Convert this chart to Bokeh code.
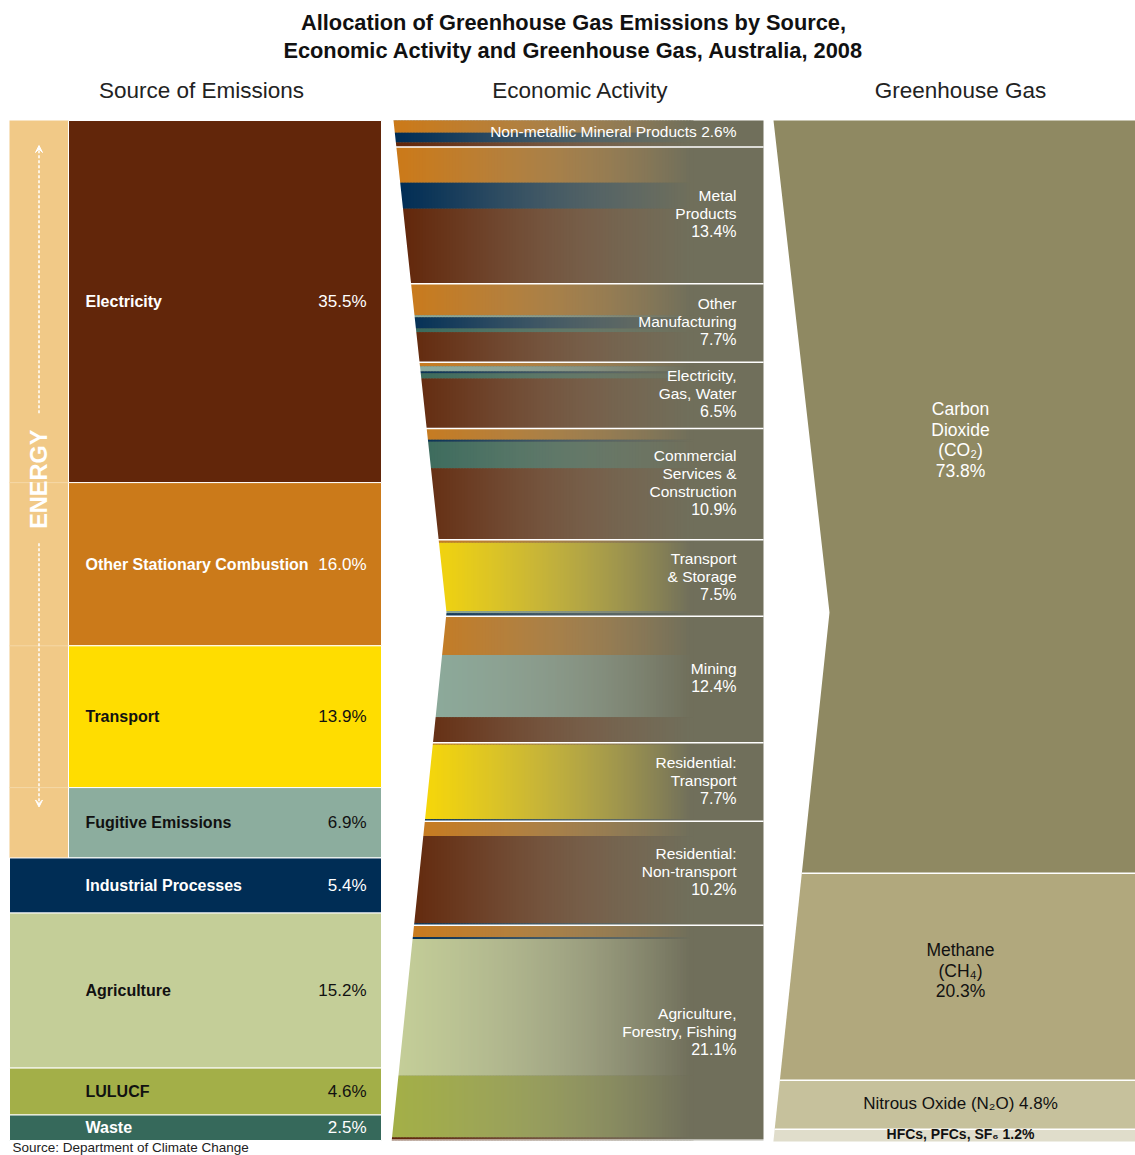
import numpy as np
from bokeh.plotting import figure
from bokeh.models import Range1d, ColumnDataSource, Arrow, VeeHead
from bokeh.embed import file_html
from bokeh.resources import INLINE
from bokeh.core.properties import value

# ---------------- data ----------------
title_lines = ["Allocation of Greenhouse Gas Emissions by Source,",
               "Economic Activity and Greenhouse Gas, Australia, 2008"]
column_titles = ["Source of Emissions", "Economic Activity", "Greenhouse Gas"]
source_note = "Source: Department of Climate Change"

sources = ["Electricity", "Other Stationary Combustion", "Transport", "Fugitive Emissions",
           "Industrial Processes", "Agriculture", "LULUCF", "Waste"]
source_pct = [35.5, 16.0, 13.9, 6.9, 5.4, 15.2, 4.6, 2.5]
source_colors = ["#62260A", "#CB7A1A", "#FFDD00", "#8CAD9E",
                 "#002D55", "#C4CE98", "#A3AF48", "#36695B"]
source_text_colors = ["white", "white", "#111111", "#111111",
                      "white", "#111111", "#111111", "white"]
energy_sources = 4
energy_label = "ENERGY"

activity_lines = [["Non-metallic Mineral Products"], ["Metal", "Products"],
                  ["Other", "Manufacturing"], ["Electricity,", "Gas, Water"],
                  ["Commercial", "Services &", "Construction"], ["Transport", "& Storage"],
                  ["Mining"], ["Residential:", "Transport"], ["Residential:", "Non-transport"],
                  ["Agriculture,", "Forestry, Fishing"]]
activity_pct = [2.6, 13.4, 7.7, 6.5, 10.9, 7.5, 12.4, 7.7, 10.2, 21.1]
# composition of each activity by source (share of total emissions, %), top to bottom
mix_sources = [
    ["Other Stationary Combustion", "Industrial Processes", "Electricity"],
    ["Other Stationary Combustion", "Industrial Processes", "Electricity"],
    ["Other Stationary Combustion", "Fugitive Emissions", "Industrial Processes", "Waste", "Electricity"],
    ["Other Stationary Combustion", "Fugitive Emissions", "Industrial Processes", "Waste", "Electricity"],
    ["Other Stationary Combustion", "Industrial Processes", "Waste", "Electricity"],
    ["Other Stationary Combustion", "Transport", "Fugitive Emissions", "Industrial Processes"],
    ["Other Stationary Combustion", "Fugitive Emissions", "Electricity"],
    ["Other Stationary Combustion", "Transport", "Industrial Processes"],
    ["Other Stationary Combustion", "Electricity", "Industrial Processes"],
    ["Other Stationary Combustion", "Industrial Processes", "Agriculture", "LULUCF", "Electricity"],
]
mix_values = [
    [1.2, 0.95, 0.45],
    [3.5, 2.55, 7.35],
    [3.1, 0.2, 1.1, 0.35, 2.95],
    [0.4, 0.5, 0.2, 0.5, 4.9],
    [1.1, 0.2, 2.6, 7.0],
    [0.3, 6.7, 0.2, 0.3],
    [3.8, 6.1, 2.5],
    [0.2, 7.3, 0.2],
    [1.45, 8.55, 0.2],
    [1.15, 0.2, 13.4, 6.05, 0.3],
]

gas_lines = [["Carbon", "Dioxide", "(CO\u2082)"], ["Methane", "(CH\u2084)"],
             ["Nitrous Oxide (N\u2082O)"], ["HFCs, PFCs, SF\u2086"]]
gas_pct = [73.8, 20.3, 4.8, 1.2]
gas_colors = ["#8F8962", "#B1A87D", "#C6C19C", "#E0DDCB"]
gas_text_colors = ["white", "#111111", "#111111", "#111111"]

# ---------------- layout constants ----------------
FONT = value("Liberation Sans")
TOP = 120.0
SCALE = 10.2          # px per percent
FADE = "#706F5B"
W, H = 1135, 1155

def ypos(c):
    return TOP + c * SCALE

def chevron(y, x_top, x_tip, x_bot, y_tip, y_top, y_bot):
    if y <= y_tip:
        return x_top + (x_tip - x_top) * (y - y_top) / (y_tip - y_top)
    return x_tip + (x_bot - x_tip) * (y - y_tip) / (y_bot - y_tip)

Y_TIP = 612.0
Y_BOT = ypos(100)

def mid_edge(y):
    return chevron(y, 393, 446, 391, Y_TIP, TOP, Y_BOT)

def right_edge(y):
    return chevron(y, 773, 829, 773, Y_TIP, TOP, Y_BOT)

def hex2rgb(h):
    h = h.lstrip("#")
    return np.array([int(h[i:i + 2], 16) for i in (0, 2, 4)], dtype=float)

def rgb2hex(c):
    c = np.clip(np.round(c), 0, 255).astype(int)
    return "#%02x%02x%02x" % tuple(c)

p = figure(width=W, height=H, x_range=Range1d(0, W), y_range=Range1d(H, 0),
           x_axis_type=None, y_axis_type=None, output_backend="svg", toolbar_location=None,
           min_border=0, background_fill_color="white", border_fill_color="white")
p.outline_line_color = None
p.grid.visible = False

# ---------------- titles ----------------
p.text(x=[573, 573], y=[22, 50], text=title_lines, text_font=FONT, text_font_size="21.8px",
       text_font_style="bold", text_align="center", text_baseline="middle", text_color="#111111")
p.text(x=[201, 580, 960], y=[90, 90, 90], text=column_titles, text_font=FONT,
       text_font_size="22.5px", text_align="center", text_baseline="middle", text_color="#222222")
p.text(x=[12], y=[1154.5], text=[source_note], text_font=FONT, text_font_size="13.5px",
       text_align="left", text_baseline="bottom", text_color="#222222")

# ---------------- left column: sources ----------------
cum = np.concatenate([[0], np.cumsum(source_pct)])
energy_end = ypos(cum[energy_sources])
p.quad(left=[9], right=[68], top=[TOP], bottom=[energy_end], fill_color="#F1C987", line_color=None)
for c in cum[1:energy_sources]:
    p.segment(x0=[9], x1=[68], y0=[ypos(c)], y1=[ypos(c)], line_color="#F5D8A6", line_width=1)

src = ColumnDataSource(dict(
    left=[68 if i < energy_sources else 9 for i in range(len(sources))],
    right=[381] * len(sources),
    top=[ypos(cum[i]) for i in range(len(sources))],
    bottom=[ypos(cum[i + 1]) for i in range(len(sources))],
    color=source_colors))
p.quad(left="left", right="right", top="top", bottom="bottom", fill_color="color",
       line_color="white", line_width=1, source=src)

mids = [(ypos(cum[i]) + ypos(cum[i + 1])) / 2 for i in range(len(sources))]
p.text(x=[85] * len(sources), y=mids, text=sources, text_font=FONT, text_font_size="16px",
       text_font_style="bold", text_align="left", text_baseline="middle", text_color=source_text_colors)
p.text(x=[366] * len(sources), y=mids, text=["%.1f%%" % v for v in source_pct], text_font=FONT,
       text_font_size="17px", text_align="right", text_baseline="middle", text_color=source_text_colors)

# ENERGY label and arrows
e_mid = (TOP + energy_end) / 2 - 10
p.text(x=[38.5], y=[e_mid], text=[energy_label], text_font=FONT, text_font_size="23.5px",
       text_font_style="bold", text_align="center", text_baseline="middle", text_color="white",
       angle=np.pi / 2)
p.add_layout(Arrow(end=VeeHead(size=7, line_color="white", fill_color="white", line_width=1),
                   x_start=38.5, y_start=e_mid - 66, x_end=38.5, y_end=TOP + 25,
                   line_color="white", line_width=1.5, line_dash="3 2"))
p.add_layout(Arrow(end=VeeHead(size=7, line_color="white", fill_color="white", line_width=1),
                   x_start=38.5, y_start=e_mid + 64, x_end=38.5, y_end=energy_end - 51,
                   line_color="white", line_width=1.5, line_dash="3 2"))

# ---------------- middle column: economic activity ----------------
fade_rgb = hex2rgb(FADE)
G_START, G_END, STEP = 395.0, 690.0, 3.0
xs = np.arange(386.0, G_END, STEP)
color_of = dict(zip(sources, source_colors))

def grad(base, x):
    t = np.clip((x - G_START) / (G_END - G_START), 0, 1) ** 1.2
    c = base * (1 - t) + fade_rgb * t
    return c + 0.08 * np.sin(np.pi * t) * (255 - c)

p.quad(left=[386], right=[763], top=[TOP], bottom=[Y_BOT], fill_color=FADE, line_color=None)

acum = np.concatenate([[0], np.cumsum(activity_pct)])
gl, gr, gt, gb, gc = [], [], [], [], []
for i in range(len(activity_pct)):
    c0 = acum[i]
    for s, v in zip(mix_sources[i], mix_values[i]):
        y0, y1 = ypos(c0), ypos(c0 + v)
        base = hex2rgb(color_of[s])
        for x in xs:
            gl.append(x); gr.append(x + STEP + 1.0); gt.append(y0); gb.append(y1)
            gc.append(rgb2hex(grad(base, x + STEP / 2)))
        c0 += v
p.quad(left=gl, right=gr, top=gt, bottom=gb, fill_color=gc, line_color=None)

# chevron mask
p.patch(x=[383, 393, 393, mid_edge(Y_TIP), 391, 383],
        y=[TOP - 2, TOP - 2, TOP, Y_TIP, Y_BOT + 2, Y_BOT + 2],
        fill_color="white", line_color=None)
p.quad(left=[386], right=[770], top=[Y_BOT], bottom=[H - 16], fill_color="white", line_color=None)

for c in acum[1:-1]:
    y = ypos(c)
    p.segment(x0=[mid_edge(y) - 2], x1=[763], y0=[y], y1=[y], line_color="white", line_width=1.5)

tx, ty, tt, px_, py_, pt_ = [], [], [], [], [], []
for i, lines in enumerate(activity_lines):
    y0, y1 = ypos(acum[i]), ypos(acum[i + 1])
    ymid = (y0 + y1) / 2 - 1.5
    pct = "%.1f%%" % activity_pct[i]
    if y1 - y0 < 40:
        tx.append(736); ty.append(ymid - 0.5); tt.append(lines[0] + " " + pct)
        continue
    n = len(lines) + 1
    for k, ln in enumerate(lines):
        tx.append(736); ty.append(ymid + (k - (n - 1) / 2) * 18); tt.append(ln)
    px_.append(736); py_.append(ymid + ((n - 1) - (n - 1) / 2) * 18); pt_.append(pct)
p.text(x=tx, y=ty, text=tt, text_font=FONT, text_font_size="15.5px", text_align="right",
       text_baseline="middle", text_color="white")
p.text(x=px_, y=py_, text=pt_, text_font=FONT, text_font_size="16px", text_align="right",
       text_baseline="middle", text_color="white")

# ---------------- right column: greenhouse gas ----------------
gcum = np.concatenate([[0], np.cumsum(gas_pct)])
pxs, pys = [], []
for i in range(len(gas_pct)):
    y0, y1 = ypos(gcum[i]), ypos(gcum[i + 1])
    ex = [right_edge(y0)]
    ey = [y0]
    if y0 < Y_TIP < y1:
        ex.append(right_edge(Y_TIP)); ey.append(Y_TIP)
    ex.append(right_edge(y1)); ey.append(y1)
    pxs.append(ex + [W, W]); pys.append(ey + [y1, y0])
p.patches(xs=pxs, ys=pys, fill_color=gas_colors, line_color=None)
for c in gcum[1:-1]:
    y = ypos(c)
    p.segment(x0=[right_edge(y)], x1=[W], y0=[y], y1=[y], line_color="white", line_width=1.5)

gas_offsets = [-57, -6, -1, -1]
for i, lines in enumerate(gas_lines):
    y0, y1 = ypos(gcum[i]), ypos(gcum[i + 1])
    ymid = (y0 + y1) / 2 + gas_offsets[i]
    pct = "%.1f%%" % gas_pct[i]
    if y1 - y0 < 60:
        big = y1 - y0 > 30
        p.text(x=[960], y=[ymid], text=[lines[0] + " " + pct], text_font=FONT,
               text_font_size="17px" if big else "14px",
               text_font_style="normal" if big else "bold",
               text_align="center", text_baseline="middle", text_color=gas_text_colors[i])
        continue
    allines = lines + [pct]
    n = len(allines)
    p.text(x=[960] * n, y=[ymid + (k - (n - 1) / 2) * 20.7 for k in range(n)], text=allines,
           text_font=FONT, text_font_size="17.5px", text_align="center", text_baseline="middle",
           text_color=gas_text_colors[i])

open("out.html", "w").write(file_html(p, INLINE))
